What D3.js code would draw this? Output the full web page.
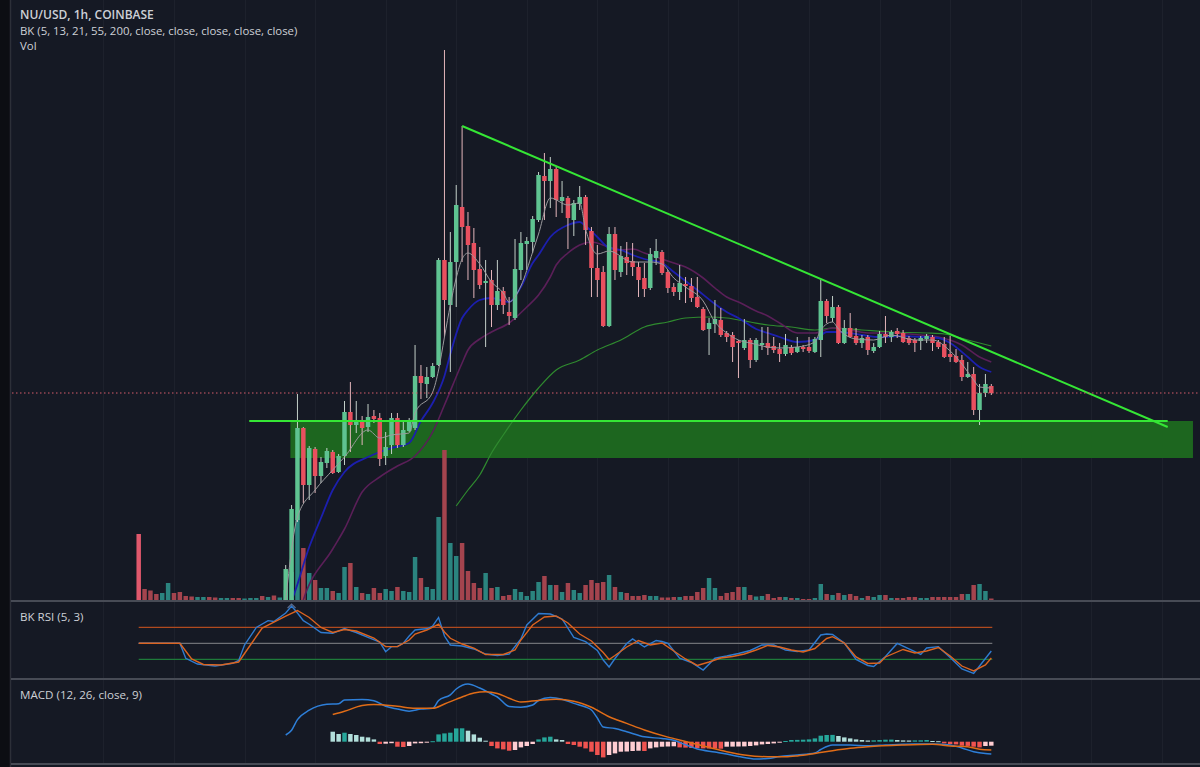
<!DOCTYPE html>
<html><head><meta charset="utf-8">
<script src="https://cdn.jsdelivr.net/npm/d3@7"></script>
<style>
html,body{margin:0;padding:0;background:#151924;}
svg{display:block;}
</style></head><body>
<svg id="c" width="1200" height="767"></svg>
<script>
// ---------------- DATA ----------------
const titleLines = ["NU/USD, 1h, COINBASE", "BK (5, 13, 21, 55, 200, close, close, close, close, close)", "Vol"];
const rsiTitle = "BK RSI (5, 3)";
const macdTitle = "MACD (12, 26, close, 9)";
const barCount = 146;
const candleStart = 25;
const open = [.090,.100,.180,.272,.215,.251,.224,.237,.248,.228,
.244,.288,.275,.278,.273,.284,.282,.244,.255,.282,
.255,.269,.272,.324,.316,.323,.335,.440,.395,.438,
.493,.474,.457,.431,.417,.420,.395,.409,.388,.382,
.430,.456,.458,.480,.524,.519,.531,.499,.502,.480,
.496,.503,.469,.432,.428,.374,.466,.428,.443,.439,
.433,.422,.412,.442,.448,.428,.413,.408,.416,.414,
.403,.391,.371,.376,.380,.367,.365,.359,.352,.360,
.340,.355,.357,.354,.351,.346,.353,.348,.353,.353,
.348,.360,.399,.382,.393,.357,.372,.364,.357,.363,
.349,.353,.366,.363,.369,.367,.362,.360,.359,.361,
.363,.358,.356,.346,.344,.340,.323,.326,.290,.307,
.314];
const high = [.135,.195,.306,.273,.254,.253,.243,.252,.250,.246,
.299,.318,.299,.284,.296,.290,.287,.268,.287,.287,
.279,.282,.355,.335,.333,.337,.442,.650,.468,.515,
.574,.488,.472,.453,.440,.430,.440,.413,.403,.461,
.468,.463,.484,.528,.547,.543,.533,.519,.504,.500,
.514,.505,.473,.455,.434,.473,.473,.454,.458,.457,
.438,.437,.452,.461,.450,.430,.417,.435,.423,.422,
.423,.393,.382,.400,.392,.369,.368,.360,.381,.362,
.362,.373,.373,.363,.357,.366,.355,.363,.355,.363,
.363,.420,.401,.404,.395,.380,.387,.372,.365,.365,
.357,.369,.384,.370,.372,.370,.364,.362,.364,.366,
.365,.360,.363,.364,.351,.345,.338,.333,.316,.326,
.316];
const low = [.088,.098,.178,.197,.200,.207,.217,.232,.226,.227,
.235,.248,.267,.255,.268,.277,.234,.235,.246,.252,
.253,.268,.270,.301,.302,.322,.334,.363,.328,.393,
.438,.420,.402,.411,.353,.373,.390,.386,.375,.380,
.420,.430,.447,.478,.480,.492,.483,.487,.451,.464,
.490,.455,.403,.403,.373,.373,.420,.423,.425,.424,
.403,.403,.410,.435,.425,.407,.404,.400,.397,.398,
.392,.369,.345,.367,.363,.358,.338,.322,.350,.332,
.338,.350,.345,.347,.338,.344,.345,.347,.348,.347,
.347,.343,.377,.378,.356,.356,.362,.355,.352,.345,
.347,.352,.357,.358,.362,.357,.355,.348,.350,.357,
.349,.351,.342,.338,.337,.319,.322,.285,.275,.303,
.305];
const close = [.131,.191,.272,.215,.252,.224,.238,.249,.227,.244,
.288,.275,.279,.272,.283,.281,.241,.253,.282,.255,
.270,.280,.324,.317,.323,.334,.440,.400,.438,.495,
.473,.455,.430,.415,.419,.395,.409,.395,.384,.431,
.457,.459,.481,.525,.519,.531,.500,.503,.482,.497,
.503,.470,.432,.420,.374,.466,.430,.444,.437,.433,
.420,.411,.446,.449,.427,.412,.408,.417,.414,.402,
.393,.370,.377,.381,.365,.363,.353,.357,.360,.340,
.360,.357,.352,.350,.346,.355,.347,.353,.351,.349,
.361,.399,.384,.393,.357,.372,.363,.357,.362,.350,
.353,.366,.363,.368,.366,.358,.357,.357,.362,.364,
.357,.353,.343,.343,.338,.323,.326,.290,.307,.316,
.307];
const volume = [66,11,9.5,6,7,17,7,8,4,3.5,
3,3,3,2.5,2,2,2,2,1.5,2,
2,4,3,4.5,2.5,10,28,90,52,27,
20,12,12,9,7,33,37,13,7,6,
12,7,11,9,13,9,8,43,22,13,
11,83,150,57,44,57,29,17,12,27,
12,13,4,5,11,8,4,9,18,24,
15,15,8,17,10,7,15,20,17,18,
25,13,8,7,4,4,5,4,4,2.5,
2.5,3,3,4,4,8,12,22,12,4,
7,8,13,13,5,3.5,4,6,2,3,
3,2,2,1,1,2,16,6,5,7,
5,6,4,2,4,3,5,5,2,2,
2,3,3,2,2,3,3,3,3,3,
6,6,15,16,9,1.5];
const volUp = [0,0,0,0,1,1,0,0,0,0,
1,1,0,0,1,1,0,0,1,1,
1,0,1,0,1,1,1,1,0,1,
0,1,1,0,1,1,0,1,0,1,
0,0,1,1,0,1,1,1,0,1,
1,1,0,1,1,0,0,0,0,1,
0,1,0,0,1,1,1,1,1,0,
1,0,1,0,1,1,0,0,0,0,
1,0,1,0,0,0,0,1,1,0,
0,0,1,0,0,0,0,1,1,0,
0,0,0,1,0,1,1,0,0,0,
1,0,1,0,0,1,1,0,1,0,
1,0,0,1,0,1,1,0,1,0,
0,0,0,1,1,0,0,0,0,0,
0,1,0,1,1,0];
// moving averages: [bar index, price]
const ma5 = [[25,.100],[27,.183],[30,.210],[33,.230],[35,.243],[39,.270],[41,.262],[43,.265],[46,.267],[47,.287],[50,.308],[51,.330],[52,.363],[53,.395],[54,.422],[55,.441],[56,.447],[58,.436],[60,.418],[62,.407],[63,.398],[65,.414],[67,.448],[68,.466],[70,.502],[73,.495],[75,.497],[76,.471],[78,.446],[80,.449],[84,.438],[87,.438],[89,.436],[91,.422],[93,.413],[96,.399],[98,.378],[100,.367],[102,.360],[104,.357],[107,.353],[109,.352],[112,.353],[115,.358],[116,.370],[118,.378],[119,.371],[122,.361],[125,.360],[128,.365],[132,.360],[135,.360],[138,.349],[140,.336],[142,.320],[143,.313],[145,.312]];
const ma13 = [[25,.090],[26,.100],[29,.153],[31,.182],[33,.210],[35,.228],[39,.243],[41,.248],[43,.252],[46,.257],[48,.279],[50,.297],[52,.324],[53,.346],[55,.382],[56,.390],[58,.400],[60,.402],[62,.399],[63,.398],[65,.413],[67,.437],[68,.445],[70,.463],[73,.475],[75,.478],[76,.474],[78,.463],[80,.452],[82,.450],[84,.445],[86,.441],[89,.437],[91,.428],[93,.419],[95,.410],[98,.396],[100,.388],[102,.382],[105,.371],[107,.367],[109,.363],[112,.358],[115,.360],[117,.368],[119,.368],[123,.365],[126,.363],[130,.364],[133,.363],[136,.362],[138,.357],[141,.343],[143,.333],[145,.328]];
const ma21 = [[27,.080],[28,.100],[33,.151],[35,.171],[38,.208],[41,.223],[44,.234],[47,.244],[50,.268],[52,.295],[55,.337],[56,.350],[58,.361],[60,.368],[63,.377],[66,.393],[68,.405],[70,.423],[71,.435],[73,.447],[75,.455],[77,.458],[80,.453],[82,.450],[84,.451],[86,.447],[89,.441],[91,.437],[93,.433],[96,.422],[98,.412],[100,.403],[102,.398],[105,.389],[107,.384],[109,.377],[112,.367],[115,.367],[118,.372],[121,.370],[124,.367],[128,.367],[133,.365],[136,.363],[140,.355],[143,.343],[145,.338]];
const ma55 = [[54,.194],[56,.210],[58,.225],[60,.247],[62,.265],[65,.290],[68,.312],[71,.330],[75,.340],[78,.350],[82,.360],[86,.373],[90,.378],[93,.382],[97,.383],[100,.382],[104,.378],[107,.375],[111,.373],[115,.370],[118,.372],[123,.370],[128,.368],[134,.367],[137,.366],[141,.360],[145,.354]];
// drawings
const supportLevel = 0.279, supportFrom = 18.8, supportTo = 175;
const zoneTop = 0.279, zoneBottom = 0.242, zoneFrom = 25.8, zoneTo = 179.3;
const trendFrom = [55, 0.574], trendTo = [175, 0.273];
// RSI (5,3): [bar index, value]
const rsiFast = [[0,50],[7,50],[8,31.3],[10,24.1],[13,21.6],[16,25],[17,28.5],[18,47.9],[20,69.8],[22,78.3],[23,77.3],[25,87.9],[26,96.6],[27,87.9],[28,78.3],[29,73.8],[31,63.5],[33,62.5],[35,68.5],[37,63.5],[39,57.3],[41,51.6],[42,39.5],[43,45.8],[44,45.8],[45,50],[46,59.1],[47,66.6],[48,67.5],[49,68.1],[50,71.6],[51,82.3],[52,59.1],[53,47.9],[55,46.6],[57,42.9],[59,36.6],[61,34.8],[63,36.6],[65,55.4],[66,72.9],[68,87.3],[70,86.6],[72,80.4],[74,57.3],[76,52],[78,41],[79,29.1],[80,20.4],[81,31],[83,49.8],[84,55.4],[86,45.4],[88,53.5],[89,52.3],[90,50],[92,31.3],[94,26],[96,16.6],[98,31.3],[100,34.1],[102,37.3],[104,41],[106,47.9],[108,47.9],[110,41.6],[112,39.8],[114,41.6],[116,60.4],[117,61.6],[118,61],[120,50.4],[122,29.8],[124,22.3],[125,21],[127,33.5],[129,49.8],[131,42.9],[133,36],[134,44.1],[136,45.8],[138,32.3],[140,17.9],[142,12.3],[143,21.6],[145,40.4]];
const rsiSlow = [[0,50],[7,50],[9,30.4],[11,23.5],[14,22.9],[17,26.6],[19,47.9],[21,69.1],[23,76.6],[25,84.1],[27,91],[29,82.3],[31,69.8],[33,63.5],[35,67.3],[37,65.4],[40,56.6],[42,45.8],[44,45.8],[46,54.1],[47,61.6],[49,66.6],[51,74.1],[52,64.1],[53,56.3],[55,49.1],[57,44.1],[59,36],[62,36],[64,41.6],[65,54.1],[67,72.9],[69,82.9],[71,84.1],[73,75.4],[75,61.6],[77,52.9],[79,38.5],[80,29.8],[81,34.8],[83,45.4],[85,53.5],[87,47.9],[89,50.4],[91,40.4],[93,30.4],[95,22.3],[97,26.6],[99,31.6],[101,33.5],[103,36.6],[105,41.6],[107,47.3],[109,45.4],[111,41.6],[113,39.1],[115,43.5],[117,56],[118,58.3],[120,50.4],[122,32.9],[124,24.8],[126,25.4],[127,32.9],[130,42.3],[132,37.9],[134,40.4],[136,44.8],[138,34.1],[140,21.6],[142,15.4],[144,22.9],[145,31.6]];
const rsiLevels = [70, 50, 30];
// MACD (x1e-3): [bar index, value]
const macdLine = [[25,6.7],[26,11.5],[27,22],[29,31.5],[32,37.5],[34,38],[35,41.7],[38,42.2],[40,41],[42,35.4],[44,32.7],[46,30.5],[48,32.6],[50,33.4],[51,41.2],[53,46.9],[54,52.7],[56,57.7],[58,53.7],[60,47.7],[61,44.7],[63,35.2],[65,34.5],[67,36.7],[68,41.2],[70,44.2],[72,42.5],[74,38.3],[76,34.7],[77,31.7],[78,23.7],[79,14.7],[81,13.2],[83,10],[86,4.9],[89,3.2],[91,1.4],[93,-3],[95,-7.3],[98,-10.3],[100,-12.3],[102,-14.7],[105,-17.3],[107,-16.8],[109,-14.9],[112,-13.3],[115,-11.3],[116,-7.8],[118,-3.3],[121,-3.3],[124,-4.1],[127,-3.3],[130,-2.6],[132,-2.3],[135,-2.3],[138,-3.3],[140,-6.3],[142,-10],[144,-11.9],[145,-12.3]];
const signalLine = [[33,27.2],[35,30.4],[38,36.2],[40,37.2],[44,35.4],[47,33.4],[50,33.4],[52,37.7],[55,44.7],[57,48.6],[59,49.9],[61,48.2],[63,43.5],[65,39.7],[68,41.3],[71,42.4],[74,40.5],[77,34.4],[80,24.9],[83,18.3],[86,11.7],[90,4.6],[93,0.3],[97,-5.8],[100,-10],[103,-13.2],[107,-15],[110,-15],[112,-14.2],[115,-11.8],[118,-9],[121,-6.6],[124,-5],[130,-3.3],[135,-2.6],[138,-4.3],[141,-5.1],[143,-7.6],[145,-8.3]];
const histStart = 33;
const hist = [10,7.7,9,7.7,6.7,5,4.3,2.3,-2.3,-2.0,
-1.5,-5,-5.3,-4.3,-1.7,-1.5,-0.8,0.5,7.3,8.3,
9,13.3,13.4,11,7.3,4,1,-4.3,-6.7,-7.7,
-9,-8.3,-5.7,-4.3,-2.3,2.3,4.3,5,2.3,1.7,
-2.3,-3.3,-5,-6.7,-10,-13.3,-15.7,-13.3,-11.7,-10,
-9.8,-9.3,-9.0,-9.3,-6.7,-5.7,-5,-4.8,-4.6,-5.7,
-5.9,-6.3,-6.5,-6.7,-6.8,-6.9,-7.0,-5,-4.9,-4.8,
-4.7,-4.3,-3.7,-2.7,-2.3,-1.7,-1,0.7,1.7,1.8,
2,2.3,3.3,6,6.7,6.8,5.7,4.3,3.3,2.3,
1.7,1.2,1.4,1.7,2,2.1,1.7,1.3,1.2,1.3,
1.4,1.7,0.7,0.5,-1.7,-2.3,-2.7,-4,-4.2,-5,
-5.7,-4.3,-4];

// ---------------- DRAW ----------------
const svg = d3.select("#c");
const W = 1200, H = 767;
const bg = "#151924";
svg.append("rect").attr("width", W).attr("height", H).attr("fill", bg);

const x = d3.scaleLinear().domain([0, barCount - 1]).range([138.7, 991.3]);
const step = x(1) - x(0);
const bw = step * 0.76;
const yP = d3.scaleLinear().domain([0.1, 0.7]).range([600, 0]);
const yV = d3.scaleLinear().domain([0, 150]).range([600, 450]);
const yR = d3.scaleLinear().domain([0, 100]).range([683.3, 603.3]);
const yM = d3.scaleLinear().domain([-25, 60]).range([766.7, 681.7]);

const defs = svg.append("defs");
defs.append("clipPath").attr("id", "mainClip").append("rect").attr("x", 12).attr("y", 0).attr("width", W - 12).attr("height", 600);

// left strip
svg.append("rect").attr("x", 0).attr("y", 0).attr("width", 10).attr("height", H).attr("fill", "#0c0e13");
svg.append("line").attr("x1", 10.5).attr("x2", 10.5).attr("y1", 0).attr("y2", H).attr("stroke", "#2c2f38").attr("stroke-width", 1.5);

// vertical grid (every 12 bars)
const gridIdx = d3.range(-12, 190, 12).map(k => k + 6);
svg.append("g").selectAll("line").data(gridIdx.filter(i => x(i) > 12 && x(i) < W)).join("line")
  .attr("x1", d => Math.round(x(d)) + 0.5).attr("x2", d => Math.round(x(d)) + 0.5)
  .attr("y1", 0).attr("y2", 763).attr("stroke", "#1d212c").attr("stroke-width", 1);

const main = svg.append("g").attr("clip-path", "url(#mainClip)");

// green zone
main.append("rect").attr("x", x(zoneFrom)).attr("y", yP(zoneTop))
  .attr("width", x(zoneTo) - x(zoneFrom)).attr("height", yP(zoneBottom) - yP(zoneTop))
  .attr("fill", "#1d661f");

// volume
const vIdx = d3.range(barCount);
main.append("g").selectAll("rect").data(vIdx).join("rect")
  .attr("x", i => x(i) - bw / 2).attr("width", bw)
  .attr("y", i => yV(volume[i])).attr("height", i => yV(0) - yV(volume[i]))
  .attr("fill", i => i === 0 ? "#e0586c" : (volUp[i] ? "#2b847f" : "#a4444e"));

// last price dotted line
const lastClose = close[close.length - 1];
svg.append("line").attr("x1", 12).attr("x2", W).attr("y1", yP(lastClose)).attr("y2", yP(lastClose))
  .attr("stroke", "#d65d6b").attr("stroke-width", 1).attr("stroke-dasharray", "1.5,2.5");

// moving averages
const maLine = d3.line().x(d => x(d[0])).y(d => yP(d[1])).curve(d3.curveMonotoneX);
main.append("path").attr("d", maLine(ma55)).attr("fill", "none").attr("stroke", "#2f8a2f").attr("stroke-width", 1.2);
main.append("path").attr("d", maLine(ma21)).attr("fill", "none").attr("stroke", "#5a1f58").attr("stroke-width", 1.6);
main.append("path").attr("d", maLine(ma13)).attr("fill", "none").attr("stroke", "#1c1fae").attr("stroke-width", 1.8);

// candles
const cIdx = d3.range(candleStart, barCount);
const cg = main.append("g");
cg.selectAll("line").data(cIdx).join("line")
  .attr("x1", i => x(i)).attr("x2", i => x(i))
  .attr("y1", i => yP(high[i - candleStart])).attr("y2", i => yP(low[i - candleStart]))
  .attr("stroke", i => close[i - candleStart] >= open[i - candleStart] ? "#c3cfc8" : "#e3b5bb")
  .attr("stroke-width", 1);
cg.selectAll("rect").data(cIdx).join("rect")
  .attr("x", i => x(i) - bw / 2).attr("width", bw)
  .attr("y", i => yP(Math.max(open[i - candleStart], close[i - candleStart])))
  .attr("height", i => Math.max(1, Math.abs(yP(open[i - candleStart]) - yP(close[i - candleStart]))))
  .attr("fill", i => close[i - candleStart] >= open[i - candleStart] ? "#5fc391" : "#e9505f");

main.append("path").attr("d", maLine(ma5)).attr("fill", "none").attr("stroke", "#9b9b9e").attr("stroke-width", 1);

// drawings
main.append("line").attr("x1", x(supportFrom)).attr("x2", x(supportTo)).attr("y1", yP(supportLevel)).attr("y2", yP(supportLevel))
  .attr("stroke", "#35e635").attr("stroke-width", 2);
main.append("line").attr("x1", x(trendFrom[0])).attr("y1", yP(trendFrom[1])).attr("x2", x(trendTo[0])).attr("y2", yP(trendTo[1]))
  .attr("stroke", "#35e635").attr("stroke-width", 2);

// RSI pane
const rl = d3.line().x(d => x(d[0])).y(d => yR(d[1]));
const lvlColors = ["#b04a1e", "#6e7075", "#1e7a3a"];
svg.append("g").selectAll("line").data(rsiLevels).join("line")
  .attr("x1", x(0)).attr("x2", x(barCount - 1) + 1).attr("y1", d => yR(d)).attr("y2", d => yR(d))
  .attr("stroke", (d, i) => lvlColors[i]).attr("stroke-width", 1.3);
svg.append("path").attr("d", rl(rsiFast)).attr("fill", "none").attr("stroke", "#2f7bd0").attr("stroke-width", 1.4);
svg.append("path").attr("d", rl(rsiSlow)).attr("fill", "none").attr("stroke", "#dc6420").attr("stroke-width", 1.4);

// MACD pane
const hIdx = d3.range(hist.length);
svg.append("g").selectAll("rect").data(hIdx).join("rect")
  .attr("x", k => x(k + histStart) - bw / 2).attr("width", bw)
  .attr("y", k => yM(Math.max(0, hist[k]))).attr("height", k => Math.max(1, Math.abs(yM(hist[k]) - yM(0))))
  .attr("fill", k => {
    const v = hist[k], p = k > 0 ? hist[k - 1] : 0;
    if (v >= 0) return (k === 0 || v < p) ? "#b2dfdb" : "#26a69a";
    return v < p ? "#ef5350" : "#ffcdd2";
  });
const ml = d3.line().x(d => x(d[0])).y(d => yM(d[1])).curve(d3.curveMonotoneX);
svg.append("path").attr("d", ml(macdLine)).attr("fill", "none").attr("stroke", "#2e7fd8").attr("stroke-width", 1.5);
svg.append("path").attr("d", ml(signalLine)).attr("fill", "none").attr("stroke", "#e06c17").attr("stroke-width", 1.5);

// separators
[601, 679, 764].forEach(y => svg.append("line").attr("x1", 11).attr("x2", W).attr("y1", y).attr("y2", y)
  .attr("stroke", "#474b55").attr("stroke-width", 2));

// small time marker under the first big candle
svg.append("path").attr("d", `M${x(26) - 4},${608} L${x(26)},${604} L${x(26) + 4},${608}`)
  .attr("fill", "none").attr("stroke", "#5a6a8a").attr("stroke-width", 1.2);

// texts
const font = "'Open Sans', 'Noto Sans', sans-serif";
const tg = svg.append("g").attr("font-family", font).attr("fill", "#cdd0d6");
tg.append("text").attr("x", 20).attr("y", 19).attr("font-size", 12).attr("font-weight", 600).text(titleLines[0]);
tg.append("text").attr("x", 20).attr("y", 35).attr("font-size", 11.4).text(titleLines[1]);
tg.append("text").attr("x", 20).attr("y", 50).attr("font-size", 11.4).text(titleLines[2]);
tg.append("text").attr("x", 20).attr("y", 621).attr("font-size", 11.6).text(rsiTitle);
tg.append("text").attr("x", 20).attr("y", 699).attr("font-size", 11.6).text(macdTitle);
</script>
</body></html>
